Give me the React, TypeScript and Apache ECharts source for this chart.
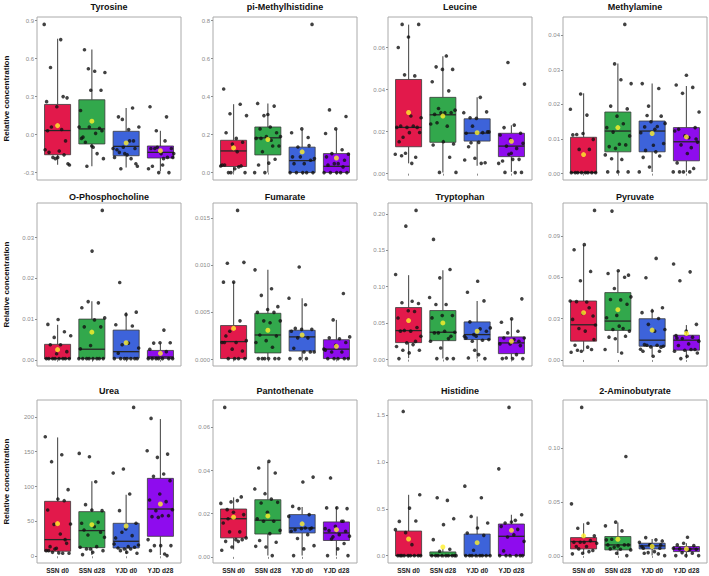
import React, { useEffect, useRef } from 'react';
import * as echarts from 'echarts';

const groups = ['SSN d0', 'SSN d28', 'YJD d0', 'YJD d28'];
const groupColors = ['#e2194b', '#32a84c', '#3d63da', '#8e0cee'];
const FONT = '"Liberation Sans", Arial, Helvetica, sans-serif';

// box: [whiskerLow, Q1, median, Q3, whiskerHigh] per group
const tyrosineBox = [[-0.238, -0.159, 0.032, 0.238, 0.757], [-0.249, -0.074, 0.045, 0.275, 0.672], [-0.26, -0.167, -0.093, 0.026, 0.21], [-0.29, -0.185, -0.14, -0.09, 0.03]];
const tyrosineMean = [0.071, 0.106, -0.066, -0.127];
const tyrosinePts = [
  [0.87, 0.75, 0.53, 0.29, 0.22, 0.26, 0.30, -0.18, -0.24, -0.13, -0.14, -0.05, -0.19, -0.12, 0.04, 0.06, -0.23, -0.18, 0.03, -0.16],
  [0.52, 0.49, 0.50, 0.67, 0.35, 0.35, 0.19, -0.15, -0.25, -0.19, -0.10, -0.02, 0.05, 0.06, 0.06, 0.01, -0.06, 0.03, -0.09, -0.03],
  [0.21, 0.12, 0.06, 0.04, 0.14, -0.11, -0.15, -0.18, -0.19, -0.27, -0.25, -0.16, -0.12, -0.05, -0.10, -0.11, -0.05, -0.14, -0.23],
  [0.22, 0.14, 0.03, -0.18, -0.24, -0.25, -0.30, -0.30, -0.27, -0.05, -0.11, -0.11, -0.15, -0.11, -0.18, -0.10, -0.15, -0.19],
];

const methylhistidineBox = [[0, 0.032, 0.114, 0.17, 0.36], [0, 0.093, 0.183, 0.24, 0.364], [0, 0, 0.063, 0.134, 0.227], [0, 0, 0.033, 0.10, 0.227]];
const methylhistidineMean = [0.13, 0.174, 0.109, 0.077];
const methylhistidinePts = [
  [0.44, 0.36, 0.31, 0.30, 0.18, 0.21, 0.16, 0.15, 0.04, 0.03, 0, 0, 0.02, 0.04, 0.035, 0, 0.035, 0.11],
  [0.306, 0.364, 0.35, 0.30, 0.19, 0.24, 0.23, 0.21, 0.19, 0.18, 0.14, 0.11, 0.14, 0.05, 0.04, 0.07, 0, 0, 0.17, 0.18],
  [0.78, 0.23, 0.21, 0.185, 0.135, 0.074, 0.047, 0.047, 0.065, 0.083, 0, 0, 0, 0, 0, 0.083, 0.142],
  [0.33, 0.295, 0.23, 0.206, 0.12, 0.10, 0.097, 0.047, 0.039, 0.065, 0.047, 0, 0, 0, 0, 0, 0.083, 0.03],
];

const leucineBox = [[0.0049, 0.0128, 0.022, 0.0448, 0.0709], [0.0006, 0.0149, 0.028, 0.0363, 0.0559], [0.0038, 0.0155, 0.0193, 0.0261, 0.0363], [0.0008, 0.0081, 0.0131, 0.0192, 0.023]];
const leucineMean = [0.0291, 0.0274, 0.0195, 0.0154];
const leucinePts = [
  [0.071, 0.071, 0.065, 0.060, 0.0465, 0.047, 0.0266, 0.0274, 0.0226, 0.022, 0.022, 0.022, 0.0226, 0.0173, 0.0196, 0.0195, 0.0152, 0.0078, 0.0097, 0.0092, 0.0049, 0.0085],
  [0.056, 0.0508, 0.0496, 0.0496, 0.0437, 0.0394, 0.031, 0.0302, 0.029, 0.0282, 0.029, 0.029, 0.0236, 0.0226, 0.0242, 0.0141, 0.0152, 0.0136, 0.0078, 0.0006, 0.0006],
  [0.029, 0.0363, 0.0266, 0.0294, 0.0263, 0.0192, 0.0195, 0.0226, 0.0199, 0.0149, 0.0128, 0.0052, 0.0073, 0.0065, 0.0049, 0.0147, 0.0199],
  [0.0529, 0.0426, 0.0231, 0.0219, 0.0192, 0.0163, 0.0184, 0.012, 0.0131, 0.0144, 0.0068, 0.006, 0.0068, 0.0092, 0.0049, 0.0005, 0.0006, 0.0006, 0.0097],
];

const methylamineBox = [[0.0003, 0.0003, 0.0003, 0.0105, 0.0232], [0.0005, 0.0063, 0.0123, 0.0178, 0.0318], [0.0005, 0.0063, 0.0123, 0.0152, 0.026], [0.0005, 0.0037, 0.0092, 0.0133, 0.0253]];
const methylamineMean = [0.0055, 0.0133, 0.0116, 0.0106];
const methylaminePts = [
  [0.023, 0.0186, 0.0169, 0.0113, 0.0099, 0.0116, 0.0112, 0.007, 0.007, 0.0003, 0.0003, 0.0003, 0.0003, 0.0003, 0.0003, 0.0003, 0.0003],
  [0.0431, 0.0317, 0.026, 0.0271, 0.0195, 0.0187, 0.0166, 0.0133, 0.0144, 0.012, 0.0109, 0.0085, 0.0078, 0.0083, 0.0073, 0.0054, 0.0041, 0.0043, 0.0005, 0.0005, 0.0005],
  [0.026, 0.0246, 0.0195, 0.0145, 0.0128, 0.0135, 0.0166, 0.015, 0.0118, 0.0136, 0.0168, 0.0087, 0.0082, 0.0047, 0.0051, 0.0019, 0.0005, 0.0063, 0.0067],
  [0.0284, 0.0256, 0.0249, 0.0232, 0.0178, 0.0104, 0.0128, 0.0133, 0.0109, 0.0123, 0.0075, 0.0083, 0.0091, 0.0058, 0.0031, 0.0015, 0.0005, 0.0005, 0.0005, 0.0005, 0.01],
];

const phosphocholineBox = [[0.0003, 0.0003, 0.0003, 0.0038, 0.0086], [0.0003, 0.0003, 0.0026, 0.01, 0.0144], [0.0003, 0.0004, 0.002, 0.0073, 0.0117], [0.0003, 0.0003, 0.0007, 0.0023, 0.004]];
const phosphocholineMean = [0.0025, 0.0068, 0.0042, 0.0016];
const phosphocholinePts = [
  [0.0099, 0.0087, 0.0069, 0.0055, 0.0059, 0.0037, 0.0037, 0.002, 0.0015, 0.0003, 0.0003, 0.0003, 0.0003, 0.0003, 0.0003, 0.0003, 0.0003],
  [0.0367, 0.0267, 0.0128, 0.014, 0.0143, 0.0103, 0.0098, 0.0081, 0.0081, 0.0035, 0.0027, 0.0003, 0.0003, 0.0003, 0.0003, 0.0003, 0.0003, 0.0003, 0.0003],
  [0.019, 0.0117, 0.0111, 0.0086, 0.0083, 0.0037, 0.0029, 0.0041, 0.0016, 0.0003, 0.0003, 0.0003, 0.0003, 0.0003, 0.0003, 0.0003],
  [0.0073, 0.0041, 0.0042, 0.0042, 0.0026, 0.002, 0.0003, 0.0003, 0.0003, 0.0003, 0.0003, 0.0003, 0.0003],
];

const fumarateBox = [[0.0001, 0.0001, 0.0019, 0.0036, 0.0082], [0.0001, 0.0007, 0.0026, 0.0049, 0.0095], [0.0001, 0.0009, 0.0024, 0.0031, 0.0065], [0.0001, 0.0001, 0.0011, 0.0021, 0.0042]];
const fumarateMean = [0.0033, 0.0031, 0.0026, 0.0014];
const fumaratePts = [
  [0.0158, 0.0102, 0.0103, 0.0082, 0.0082, 0.0041, 0.003, 0.002, 0.0018, 0.0025, 0.0009, 0.0011, 0.0018, 0.0001, 0.0001, 0.0001, 0.0001, 0.0018],
  [0.0095, 0.0075, 0.0068, 0.0056, 0.0053, 0.005, 0.005, 0.0041, 0.0041, 0.0039, 0.0026, 0.0025, 0.002, 0.0018, 0.0013, 0.0001, 0.0001, 0.0001, 0.0001, 0.0001, 0.0001],
  [0.0098, 0.0065, 0.0058, 0.0033, 0.0032, 0.0032, 0.003, 0.0023, 0.0023, 0.0008, 0.0008, 0.0012, 0.0008, 0.0001, 0.0001, 0.0001],
  [0.007, 0.0042, 0.0024, 0.0022, 0.0023, 0.0018, 0.0015, 0.001, 0.0008, 0.0008, 0.0001, 0.0001, 0.0001, 0.0001, 0.0001, 0.0011],
];

const tryptophanBox = [[0.002, 0.0233, 0.0398, 0.0714, 0.1158], [0.0014, 0.026, 0.0375, 0.0673, 0.1227], [0.0014, 0.0275, 0.0343, 0.0517, 0.0805], [0.0014, 0.0082, 0.0229, 0.0311, 0.0554]];
const tryptophanMean = [0.0535, 0.0503, 0.0389, 0.0252];
const tryptophanPts = [
  [0.2046, 0.183, 0.1167, 0.08, 0.078, 0.0769, 0.067, 0.057, 0.066, 0.04, 0.032, 0.039, 0.039, 0.044, 0.0229, 0.018, 0.0206, 0.0128, 0.0128, 0.0092, 0.0014, 0.025],
  [0.1648, 0.1236, 0.1121, 0.0851, 0.0755, 0.0755, 0.0604, 0.0604, 0.0572, 0.0288, 0.0366, 0.0375, 0.0389, 0.0366, 0.032, 0.016, 0.0252, 0.0014, 0.0014, 0.0014],
  [0.1075, 0.0924, 0.0805, 0.0343, 0.0435, 0.0421, 0.0517, 0.0389, 0.032, 0.0297, 0.0265, 0.0252, 0.0275, 0.0069, 0.0023, 0.0014, 0.0128, 0.032],
  [0.0833, 0.0558, 0.0513, 0.0389, 0.0366, 0.0297, 0.0275, 0.0297, 0.0192, 0.0215, 0.0215, 0.0069, 0.0023, 0.0014, 0.0014, 0.0014, 0.0252],
];

const pyruvateBox = [[0.0063, 0.0137, 0.0256, 0.0429, 0.0837], [0.0051, 0.0215, 0.0283, 0.049, 0.0649], [0.0027, 0.01, 0.0144, 0.03, 0.0373], [0.001, 0.0071, 0.0144, 0.018, 0.0254]];
const pyruvateMean = [0.0344, 0.0366, 0.0217, 0.0193];
const pyruvatePts = [
  [0.1088, 0.0839, 0.0802, 0.0644, 0.0576, 0.0429, 0.0422, 0.0424, 0.032, 0.0339, 0.0295, 0.038, 0.0229, 0.0254, 0.021, 0.0107, 0.0076, 0.0063, 0.0056, 0.0093, 0.0071, 0.0149],
  [0.1083, 0.0617, 0.0649, 0.0629, 0.0602, 0.052, 0.0459, 0.0437, 0.044, 0.0405, 0.0324, 0.0307, 0.0229, 0.0222, 0.021, 0.0246, 0.0166, 0.0173, 0.0154, 0.0076, 0.0051],
  [0.0739, 0.0598, 0.038, 0.0356, 0.0344, 0.0302, 0.0259, 0.0222, 0.021, 0.0112, 0.0093, 0.0095, 0.0078, 0.0107, 0.0107, 0.01, 0.0027, 0.0063, 0.0063],
  [0.0698, 0.0641, 0.0576, 0.0259, 0.021, 0.0178, 0.0166, 0.0156, 0.0137, 0.0117, 0.0105, 0.0076, 0.0071, 0.0063, 0.0076, 0.001, 0.0051, 0.0027, 0.016],
];

const ureaBox = [[5.7, 7.2, 23.9, 78.8, 170.4], [1.9, 12.4, 36.8, 64, 107.4], [3.3, 11.9, 21.5, 47.3, 88.3], [1.9, 28.6, 67.8, 111.7, 196.7]];
const ureaMean = [46.8, 45.3, 43.4, 74.9];
const ureaPts = [
  [171.4, 145.6, 135.6, 95.5, 82.1, 66.3, 79.7, 45.8, 46.3, 32, 13.8, 18.6, 11.5, 8.1, 4.3, 5.7, 4.3, 4.8, 8.1, 23.9, 10.5],
  [142.7, 147.5, 106.9, 74, 65.4, 66.3, 47.3, 48.7, 30.5, 27.2, 42.5, 37.7, 34.4, 10.5, 12.9, 13.8, 10.5, 8.1, 5.7, 2.4],
  [213.4, 125.1, 119.3, 89.3, 65.4, 47.3, 39.1, 26.3, 29.6, 34.4, 16.2, 13.8, 11.9, 12.9, 10.5, 17.7, 10.5, 8.1, 4.3, 5.7],
  [197.6, 146.5, 141.8, 151.3, 117.9, 114.6, 108.4, 89.3, 80.7, 78.3, 65.4, 66.8, 58.2, 56.8, 58.2, 55.8, 23.9, 3.3, 15.3, 15.3, 15.3, 8.1, 1],
];

const pantothenateBox = [[0.0034, 0.0088, 0.0177, 0.0222, 0.0276], [0.0006, 0.0106, 0.017, 0.0265, 0.044], [0.0006, 0.0111, 0.0134, 0.0196, 0.0231], [0.0006, 0.0076, 0.0111, 0.0162, 0.0231]];
const pantothenateMean = [0.0184, 0.019, 0.0153, 0.0126];
const pantothenatePts = [
  [0.0693, 0.0278, 0.0255, 0.0248, 0.0261, 0.0219, 0.0196, 0.0207, 0.0157, 0.0116, 0.0116, 0.0088, 0.008, 0.0072, 0.008, 0.0046, 0.0031, 0.0072, 0.0177],
  [0.0443, 0.0412, 0.0389, 0.0293, 0.0315, 0.0268, 0.025, 0.0253, 0.0207, 0.0177, 0.0165, 0.0165, 0.0123, 0.0108, 0.0076, 0.0068, 0.0046, 0.0049, 0.0006],
  [0.037, 0.0347, 0.0234, 0.0196, 0.0224, 0.0188, 0.0134, 0.0126, 0.0134, 0.0131, 0.0119, 0.0103, 0.0085, 0.0052, 0.0037, 0.0006, 0.013],
  [0.0366, 0.0224, 0.0227, 0.0227, 0.0165, 0.0093, 0.0096, 0.0103, 0.0122, 0.0119, 0.0142, 0.0131, 0.0165, 0.0083, 0.0006, 0.0037, 0.0006, 0.0062],
];

const histidineBox = [[0, 0, 0, 0.262, 0.649], [0, 0, 0, 0.039, 0.074], [0, 0, 0, 0.23, 0.418], [0, 0, 0.206, 0.337, 0.436]];
const histidineMean = [0.177, 0.092, 0.138, 0.27];
const histidinePts = [
  [1.539, 0.649, 0.507, 0.365, 0.369, 0.245, 0.277, 0.117, 0, 0, 0, 0, 0, 0, 0, 0, 0],
  [0.589, 0.617, 0.394, 0.33, 0.17, 0.067, 0.046, 0, 0, 0, 0, 0, 0, 0, 0, 0],
  [0.741, 0.617, 0.418, 0.348, 0.294, 0.241, 0.216, 0.057, 0, 0, 0, 0, 0, 0, 0, 0],
  [1.582, 0.926, 0.376, 0.348, 0.436, 0.358, 0.312, 0.28, 0.199, 0.152, 0.223, 0.05, 0, 0, 0, 0, 0, 0],
];

const aminobutyrateBox = [[0.0019, 0.0065, 0.0133, 0.017, 0.0303], [0.0006, 0.0056, 0.0102, 0.018, 0.031], [0.0003, 0.0065, 0.0093, 0.0118, 0.0158], [0.0003, 0.004, 0.0065, 0.0087, 0.0118]];
const aminobutyrateMean = [0.0186, 0.0155, 0.0087, 0.0065];
const aminobutyratePts = [
  [0.1378, 0.0483, 0.0303, 0.0257, 0.0186, 0.0127, 0.0127, 0.0142, 0.0127, 0.0118, 0.0087, 0.0087, 0.005, 0.0025, 0.0019, 0.004, 0.0065],
  [0.0923, 0.0313, 0.0279, 0.0232, 0.0155, 0.0102, 0.0093, 0.0102, 0.0102, 0.008, 0.0056, 0.0062, 0.0065, 0.0003, 0.0025, 0.0149],
  [0.0071, 0.0071, 0.0102, 0.0127, 0.0149, 0.017, 0.0139, 0.0087, 0.0087, 0.0019, 0.0031, 0.0003, 0.004, 0.0025, 0.0102, 0.0102],
  [0.0173, 0.0102, 0.0096, 0.0118, 0.0071, 0.0062, 0.0065, 0.0062, 0.0003, 0.0003, 0.0025, 0.0031, 0.0003, 0.0056],
];

const panels = [
  { title: 'Tyrosine', box: tyrosineBox, mean: tyrosineMean, pts: tyrosinePts, ticks: [-0.3, 0, 0.3, 0.6, 0.9], dec: 1 },
  { title: 'pi-Methylhistidine', box: methylhistidineBox, mean: methylhistidineMean, pts: methylhistidinePts, ticks: [0, 0.2, 0.4, 0.6, 0.8], dec: 1 },
  { title: 'Leucine', box: leucineBox, mean: leucineMean, pts: leucinePts, ticks: [0, 0.02, 0.04, 0.06], dec: 2 },
  { title: 'Methylamine', box: methylamineBox, mean: methylamineMean, pts: methylaminePts, ticks: [0, 0.01, 0.02, 0.03, 0.04], dec: 2 },
  { title: 'O-Phosphocholine', box: phosphocholineBox, mean: phosphocholineMean, pts: phosphocholinePts, ticks: [0, 0.01, 0.02, 0.03], dec: 2 },
  { title: 'Fumarate', box: fumarateBox, mean: fumarateMean, pts: fumaratePts, ticks: [0, 0.005, 0.01, 0.015], dec: 3 },
  { title: 'Tryptophan', box: tryptophanBox, mean: tryptophanMean, pts: tryptophanPts, ticks: [0, 0.05, 0.1, 0.15, 0.2], dec: 2 },
  { title: 'Pyruvate', box: pyruvateBox, mean: pyruvateMean, pts: pyruvatePts, ticks: [0, 0.03, 0.06, 0.09], dec: 2 },
  { title: 'Urea', box: ureaBox, mean: ureaMean, pts: ureaPts, ticks: [0, 50, 100, 150, 200], dec: 0 },
  { title: 'Pantothenate', box: pantothenateBox, mean: pantothenateMean, pts: pantothenatePts, ticks: [0, 0.02, 0.04, 0.06], dec: 2 },
  { title: 'Histidine', box: histidineBox, mean: histidineMean, pts: histidinePts, ticks: [0, 0.5, 1.0, 1.5], dec: 1 },
  { title: '2-Aminobutyrate', box: aminobutyrateBox, mean: aminobutyrateMean, pts: aminobutyratePts, ticks: [0, 0.05, 0.1], dec: 2 },
];

const colLeft = [37, 213, 388, 563];
const rowTop = [17, 203, 400];
const titleTop = [2, 192, 386];
const PW = 144;
const PH = 163;

function buildOption() {
  const grid: any[] = [];
  const xAxis: any[] = [];
  const yAxis: any[] = [];
  const series: any[] = [];
  const title: any[] = [];

  panels.forEach((p, i) => {
    const r = Math.floor(i / 4);
    const c = i % 4;
    const left = colLeft[c];
    const top = rowTop[r];
    grid.push({ left, top, width: PW, height: PH, show: true, borderColor: '#aaaaaa', borderWidth: 1, backgroundColor: 'rgba(0,0,0,0)' });
    title.push({
      text: p.title, left: left + PW / 2, top: titleTop[r], textAlign: 'center', padding: 0,
      textStyle: { fontSize: 9, fontWeight: 'bold', color: '#111', fontFamily: FONT },
    });
    const all = p.pts.flat().concat(p.box.flat(), p.mean);
    const lo = Math.min(...all);
    const hi = Math.max(...all);
    const pad = (hi - lo) * 0.05;
    xAxis.push({
      type: 'value', gridIndex: i, min: 0.4, max: 4.6,
      axisLine: { show: false }, splitLine: { show: false },
      axisTick: { show: true, customValues: [1, 2, 3, 4], length: 2, lineStyle: { color: '#8c8c8c' } },
      axisLabel: {
        show: r === 2, customValues: [1, 2, 3, 4], formatter: (v: number) => groups[Math.round(v) - 1],
        fontSize: 6.5, fontWeight: 'bold', color: '#222', margin: 4, fontFamily: FONT,
      },
    });
    yAxis.push({
      type: 'value', gridIndex: i, min: lo - pad, max: hi + pad,
      axisLine: { show: false }, splitLine: { show: false },
      axisTick: { show: true, customValues: p.ticks, length: 2, lineStyle: { color: '#8c8c8c' } },
      axisLabel: { customValues: p.ticks, formatter: (v: number) => v.toFixed(p.dec), fontSize: 6, color: '#8a8a8a', margin: 3, fontFamily: FONT },
      name: c === 0 ? 'Relative concentration' : '', nameLocation: 'middle', nameGap: 27, nameRotate: 90,
      nameTextStyle: { fontSize: 8, fontWeight: 'bold', color: '#111', fontFamily: FONT },
    });
    series.push({
      type: 'custom', xAxisIndex: i, yAxisIndex: i, z: 2,
      encode: { x: 0, y: [1, 2, 3, 4, 5] },
      data: p.box.map((b, g) => [g + 1, ...b, g]),
      renderItem: (params: any, api: any) => {
        const x = api.value(0);
        const g = api.value(6);
        const lo2 = api.coord([x, api.value(1)]);
        const q1 = api.coord([x, api.value(2)]);
        const med = api.coord([x, api.value(3)]);
        const q3 = api.coord([x, api.value(4)]);
        const hi2 = api.coord([x, api.value(5)]);
        const w = api.size([0.76, 0])[0];
        const cx = lo2[0];
        return {
          type: 'group',
          children: [
            { type: 'line', shape: { x1: cx, y1: hi2[1], x2: cx, y2: q3[1] }, style: { stroke: '#5a5a5a', lineWidth: 1.2 } },
            { type: 'line', shape: { x1: cx, y1: q1[1], x2: cx, y2: lo2[1] }, style: { stroke: '#5a5a5a', lineWidth: 1.2 } },
            { type: 'rect', shape: { x: cx - w / 2, y: q3[1], width: w, height: Math.max(q1[1] - q3[1], 0.5) }, style: { fill: groupColors[g], stroke: '#3a3a3a', lineWidth: 0.8 } },
            { type: 'line', shape: { x1: cx - w / 2, y1: med[1], x2: cx + w / 2, y2: med[1] }, style: { stroke: '#262626', lineWidth: 1.3 } },
          ],
        };
      },
    });
    const pts: number[][] = [];
    p.pts.forEach((arr, g) => {
      arr.forEach((v, k) => {
        const jit = (((k * 0.618034 + g * 0.37 + i * 0.13) % 1) - 0.5) * 0.78;
        pts.push([g + 1 + jit, v]);
      });
    });
    series.push({
      type: 'scatter', xAxisIndex: i, yAxisIndex: i, z: 3, symbol: 'circle', symbolSize: 3.6,
      itemStyle: { color: '#111' }, data: pts,
    });
    series.push({
      type: 'scatter', xAxisIndex: i, yAxisIndex: i, z: 4, symbol: 'circle', symbolSize: 5,
      itemStyle: { color: '#fff02a' }, data: p.mean.map((m, g) => [g + 1, m]),
    });
  });

  return { animation: false, backgroundColor: '#fff', title, grid, xAxis, yAxis, series };
}

export default function App() {
  const ref = useRef<HTMLDivElement>(null);
  useEffect(() => {
    const chart = echarts.init(ref.current as HTMLDivElement, undefined, { renderer: 'svg' });
    chart.setOption(buildOption() as any);
    return () => chart.dispose();
  }, []);
  return <div ref={ref} style={{ position: 'absolute', left: 0, top: 0, width: 709, height: 576, background: '#fff' }} />;
}
